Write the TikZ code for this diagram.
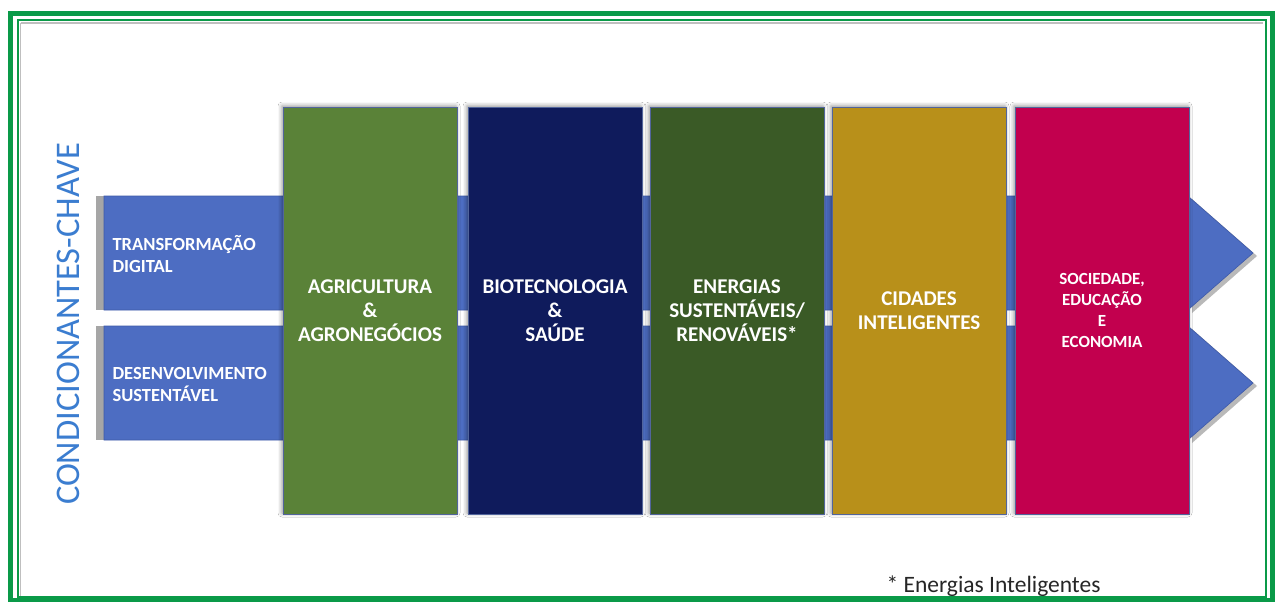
\documentclass[tikz,border=0pt]{standalone}
\usepackage{fontspec}
\setmainfont{Carlito}
\usetikzlibrary{shadows.blur}
\definecolor{frameG}{HTML}{0A9A48}
\definecolor{bandB}{HTML}{4D6DC2}
\definecolor{bandE}{HTML}{3E5AA8}
\definecolor{colA}{HTML}{5A8238}
\definecolor{colB}{HTML}{0F1B5C}
\definecolor{colC}{HTML}{3A5A26}
\definecolor{colD}{HTML}{B8901A}
\definecolor{colE}{HTML}{C2004E}
\definecolor{titleB}{HTML}{3B7DD0}
\definecolor{noteG}{HTML}{262626}
\tikzset{
  colbox/.style={draw=bandE!70!gray, line width=0.8pt, minimum width=174pt, minimum height=407pt,
     blur shadow={shadow xshift=-1pt, shadow yshift=1pt, shadow blur radius=4pt, shadow opacity=45}},
  band/.style={fill=bandB, draw=bandE, line width=0.6pt},
  collabel/.style={text=white, font=\bfseries\fontsize{21}{24}\selectfont, align=center},
  bandlabel/.style={text=white, font=\bfseries\fontsize{18.5}{22}\selectfont, align=left, anchor=west},
}
\begin{document}
\begin{tikzpicture}[x=1pt,y=-1pt]
\useasboundingbox (0,0) rectangle (1277,602);
\fill[white] (0,0) rectangle (1277,602);
% frame
\draw[frameG, line width=5pt] (10.5,13.5) rectangle (1272,600);
\draw[frameG, line width=2pt] (18,20.5) rectangle (1266,597);
\draw[gray!50, line width=1.5pt] (20.5,23) -- (1263,23);
\draw[gray!50, line width=1.5pt] (20.5,23) -- (20.5,596);
% band shadows
\fill[gray!70] (96,196) rectangle (104,310);
\fill[gray!70] (96,326) rectangle (104,440);
% arrow shadows
\fill[gray!55] (1192,199) -- (1257,256) -- (1192,313) -- cycle;
\fill[gray!55] (1192,329) -- (1257,386) -- (1192,443) -- cycle;
% bands
\draw[band] (104,196) -- (1189,196) -- (1189,197) -- (1253,253) -- (1189,309) -- (1189,310) -- (104,310) -- cycle;
\draw[band] (104,326) -- (1189,326) -- (1189,327) -- (1253,383) -- (1189,439) -- (1189,440) -- (104,440) -- cycle;
% columns
\node[colbox, fill=colA] (agri) at (370,310.5) {};
\node[colbox, fill=colB] (bio)  at (555,310.5) {};
\node[colbox, fill=colC] (ener) at (737,310.5) {};
\node[colbox, fill=colD] (cid)  at (919,310.5) {};
\node[colbox, fill=colE] (soc)  at (1102,310.5) {};
% column labels
\node[collabel] at (agri.center) {AGRICULTURA\\\&\\AGRONEGÓCIOS};
\node[collabel] at (bio.center) {BIOTECNOLOGIA\\\&\\SAÚDE};
\node[collabel] at (ener.center) {ENERGIAS\\SUSTENTÁVEIS/\\RENOVÁVEIS*};
\node[collabel] at (cid.center) {CIDADES\\INTELIGENTES};
\node[collabel, font=\bfseries\fontsize{17}{21}\selectfont] at (soc.center) {SOCIEDADE,\\EDUCAÇÃO\\E\\ECONOMIA};
% band labels
\node[bandlabel] (td) at (109,254) {TRANSFORMAÇÃO\\DIGITAL};
\node[bandlabel] (ds) at (109,384) {DESENVOLVIMENTO\\SUSTENTÁVEL};
% title
\node[text=titleB, rotate=90, font=\fontsize{34.5}{34.5}\selectfont] (title) at (68,324) {CONDICIONANTES-CHAVE};
% note
\node[text=noteG, font=\fontsize{23.5}{23.5}\selectfont, anchor=west] (note) at (883,586) {* Energias Inteligentes};
\end{tikzpicture}
\end{document}
